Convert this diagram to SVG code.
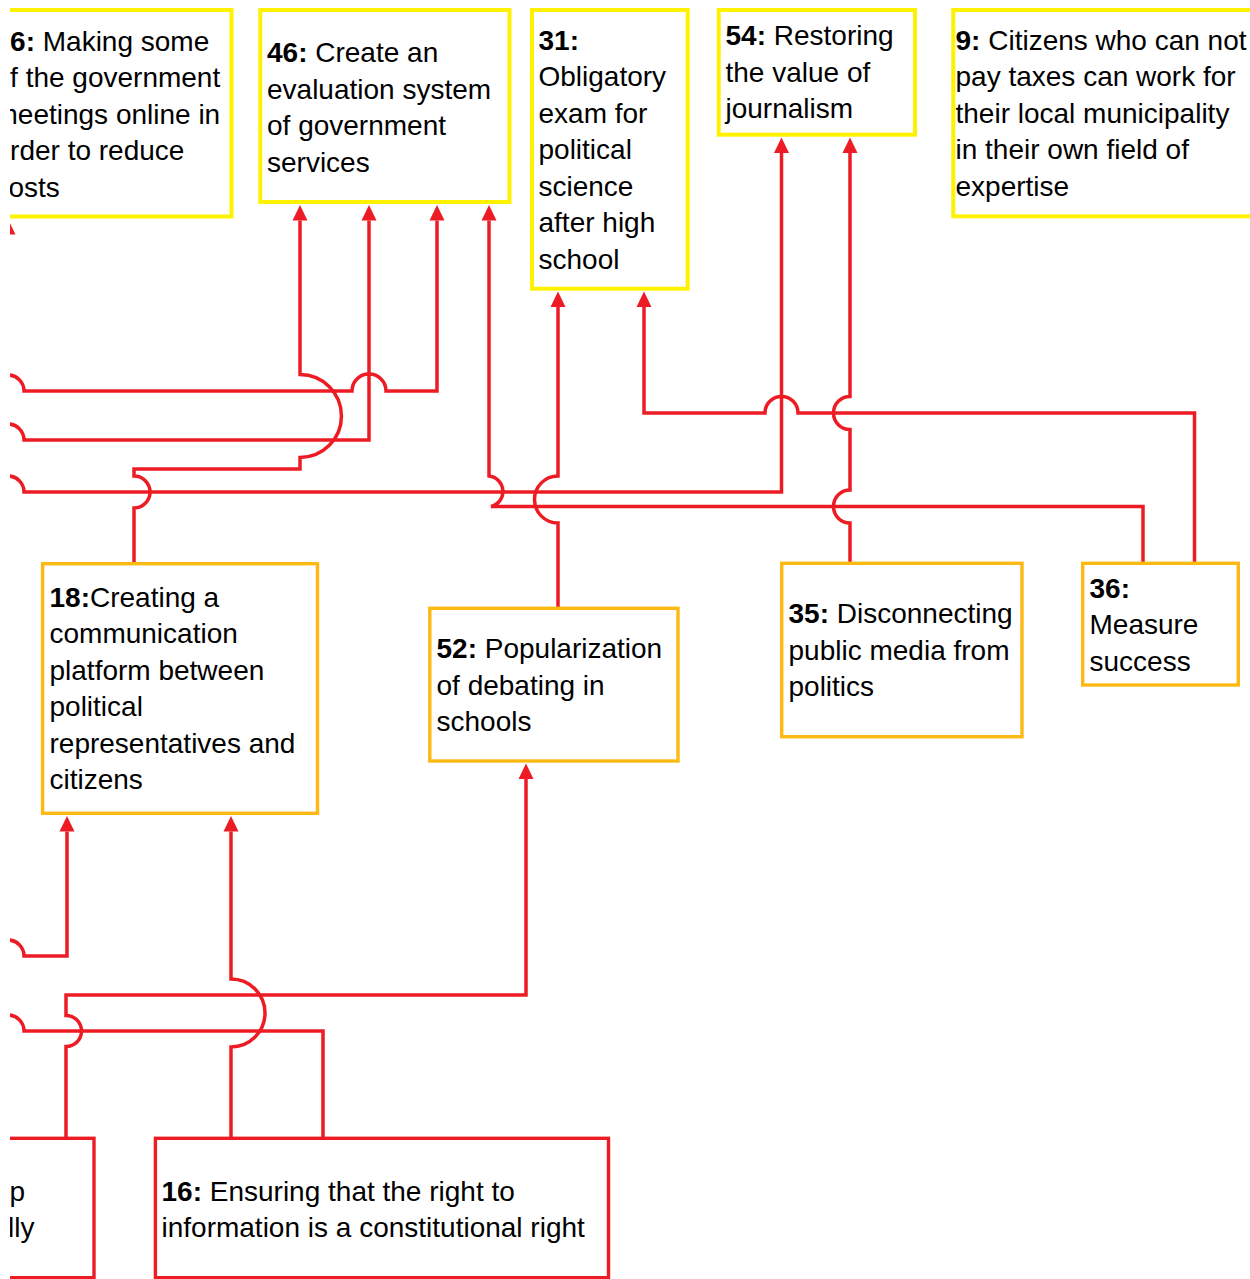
<svg xmlns="http://www.w3.org/2000/svg" width="1250" height="1279" viewBox="0 0 1250 1279">
<style>
.by{fill:#fff;stroke:#FFF200;stroke-width:4}
.bo{fill:#fff;stroke:#FDB913;stroke-width:3.4}
.br{fill:#fff;stroke:#ED1C24;stroke-width:3.4}
.t{font-family:"Liberation Sans",Arial,sans-serif;font-size:28px;fill:#000}
.b{font-weight:bold}
.c{fill:none;stroke:#ED1C24;stroke-width:3.5}
.ca{fill:none;stroke:#ED1C24;stroke-width:3.5;marker-end:url(#ah)}
</style>
<defs>
<marker id="ah" markerUnits="userSpaceOnUse" markerWidth="16" markerHeight="16" viewBox="0 -8 16 16" refX="0" refY="0" orient="auto"><path d="M0,-7.5 L15.5,0 L0,7.5 z" fill="#ED1C24"/></marker>
<clipPath id="cl"><rect x="10" y="0" width="1240" height="1279"/></clipPath>
</defs>
<rect width="1250" height="1279" fill="#fff"/>
<g clip-path="url(#cl)">
<g id="connectors">
<path class="ca" d="M134,565 V508 A16,16 0 0 0 134,476 V469 H300 V457.5 A41.5,41.5 0 0 0 300,374.5 V220.5"/>
<path class="ca" d="M-20,440 H-8 A16,16 0 0 1 24,440 H369 V220.5"/>
<path class="ca" d="M-20,391 H-8 A16,16 0 0 1 24,391 H352 A17,17 0 0 1 386,391 H437 V220.5"/>
<path class="ca" d="M1143,565 V506.5 H491 A15.5,15.5 0 0 0 489,476 V220.5"/>
<path class="ca" d="M-20,492 H-8 A16,16 0 0 1 24,492 H781.5 V153"/>
<path class="ca" d="M558,610 V523 A23.5,23.5 0 0 1 558,476 V307"/>
<path class="ca" d="M1194.5,565 V413 H798 A16.5,16.5 0 0 0 765,413 H644 V307"/>
<path class="ca" d="M850,565 V523 A16.5,16.5 0 0 1 850,490 V429.5 A16.5,16.5 0 0 1 850,396.5 V153"/>
<path class="ca" d="M-20,956 H-8 A16,16 0 0 1 24,956 H67 V831.5"/>
<path class="ca" d="M231,1140 V1047 A34,34 0 0 0 231,979 V831.5"/>
<path class="ca" d="M66,1140 V1046.5 A15.5,15.5 0 0 0 66,1015.5 V995 H526 V779"/>
<path class="c" d="M323,1140 V1031 H24 A16,16 0 0 0 -8,1031 H-20"/>
<path class="ca" d="M8,260 V234.5"/>
</g>
<g id="n56">
<rect class="by" x="-12" y="10" width="243.5" height="206.5"/>
<text class="t"><tspan x="-5.5" y="50.5"><tspan class="b">56:</tspan> Making some</tspan><tspan x="-5.5" y="87">of the government</tspan><tspan x="-5.5" y="123.5">meetings online in</tspan><tspan x="-5.5" y="160">order to reduce</tspan><tspan x="-5.5" y="196.5">costs</tspan></text>
</g>
<g id="n46">
<rect class="by" x="260.3" y="10" width="249.2" height="192"/>
<text class="t"><tspan x="267" y="62"><tspan class="b">46:</tspan> Create an</tspan><tspan x="267" y="98.5">evaluation system</tspan><tspan x="267" y="135">of government</tspan><tspan x="267" y="171.5">services</tspan></text>
</g>
<g id="n31">
<rect class="by" x="532" y="10" width="155.7" height="278.7"/>
<text class="t"><tspan x="538.5" y="49.5" class="b">31:</tspan><tspan x="538.5" y="86">Obligatory</tspan><tspan x="538.5" y="122.5">exam for</tspan><tspan x="538.5" y="159">political</tspan><tspan x="538.5" y="195.5">science</tspan><tspan x="538.5" y="232">after high</tspan><tspan x="538.5" y="268.5">school</tspan></text>
</g>
<g id="n54">
<rect class="by" x="718.7" y="10" width="196.3" height="124.7"/>
<text class="t"><tspan x="725.5" y="45"><tspan class="b">54:</tspan> Restoring</tspan><tspan x="725.5" y="81.5">the value of</tspan><tspan x="725.5" y="118">journalism</tspan></text>
</g>
<g id="n9">
<rect class="by" x="953.3" y="10" width="310" height="206.3"/>
<text class="t"><tspan x="955.5" y="49.5"><tspan class="b">9:</tspan> Citizens who can not</tspan><tspan x="955.5" y="86">pay taxes can work for</tspan><tspan x="955.5" y="122.5">their local municipality</tspan><tspan x="955.5" y="159">in their own field of</tspan><tspan x="955.5" y="195.5">expertise</tspan></text>
</g>
<g id="n18">
<rect class="bo" x="42.6" y="563.7" width="274.9" height="249.6"/>
<text class="t"><tspan x="49.5" y="606.5"><tspan class="b">18:</tspan>Creating a</tspan><tspan x="49.5" y="643">communication</tspan><tspan x="49.5" y="679.5">platform between</tspan><tspan x="49.5" y="716">political</tspan><tspan x="49.5" y="752.5">representatives and</tspan><tspan x="49.5" y="789">citizens</tspan></text>
</g>
<g id="n52">
<rect class="bo" x="429.8" y="608.3" width="248.2" height="152.7"/>
<text class="t"><tspan x="436.5" y="658"><tspan class="b">52:</tspan> Popularization</tspan><tspan x="436.5" y="694.5">of debating in</tspan><tspan x="436.5" y="731">schools</tspan></text>
</g>
<g id="n35">
<rect class="bo" x="781.7" y="563.3" width="240.3" height="173.4"/>
<text class="t"><tspan x="788.5" y="623"><tspan class="b">35:</tspan> Disconnecting</tspan><tspan x="788.5" y="659.5">public media from</tspan><tspan x="788.5" y="696">politics</tspan></text>
</g>
<g id="n36">
<rect class="bo" x="1082.7" y="563.3" width="155.6" height="121.7"/>
<text class="t"><tspan x="1089.5" y="597.5" class="b">36:</tspan><tspan x="1089.5" y="634">Measure</tspan><tspan x="1089.5" y="670.5">success</tspan></text>
</g>
<g id="nleft">
<rect class="br" x="-200" y="1138.3" width="294" height="139.4"/>
<text class="t"><tspan x="9.5" y="1200.5">p</tspan><tspan x="8" y="1237">lly</tspan></text>
</g>
<g id="n16">
<rect class="br" x="155.4" y="1138.3" width="453.1" height="139.4"/>
<text class="t"><tspan x="161.5" y="1200.5"><tspan class="b">16:</tspan> Ensuring that the right to</tspan><tspan x="161.5" y="1237">information is a constitutional right</tspan></text>
</g>
</g>
</svg>
